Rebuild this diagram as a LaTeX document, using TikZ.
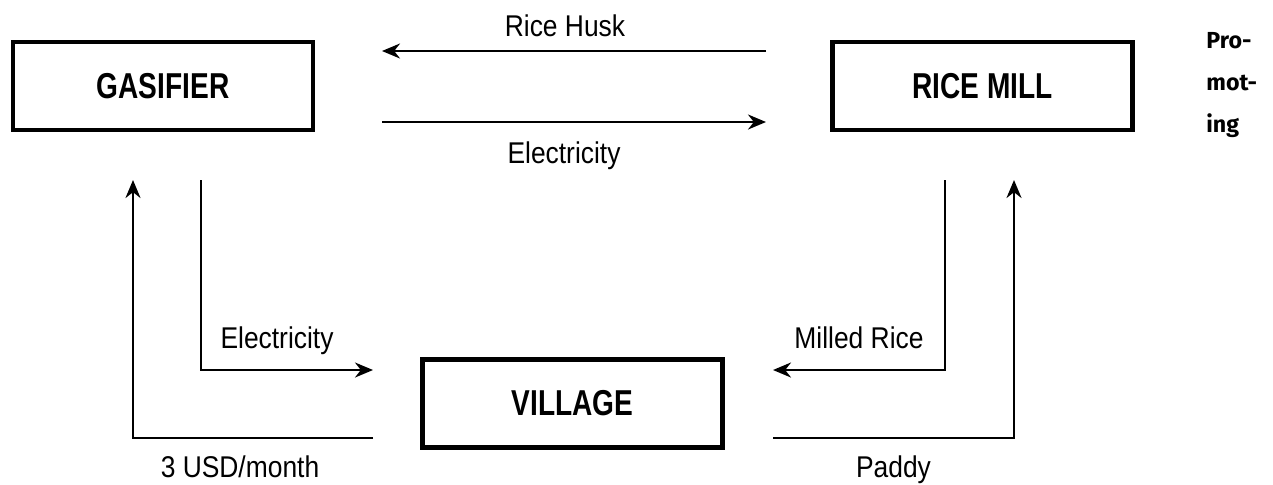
\documentclass[tikz,border=0pt]{standalone}
\usepackage{fontspec}
\setmainfont{Liberation Sans}
\newfontfamily\narrowfont[FakeStretch=0.88]{Liberation Sans}
\newfontfamily\blockfont[FakeStretch=0.78]{Liberation Sans}
\newfontfamily\sidefont{Fira Sans}
\usetikzlibrary{arrows.meta}
\usetikzlibrary{positioning}

\begin{document}
\begin{tikzpicture}[x=0.5pt,y=-0.5pt,
        block/.style={draw, line width=2.3pt, minimum width=150pt, minimum height=44pt, inner sep=0pt,
            font=\blockfont\bfseries\fontsize{18}{20}\selectfont},
        flow/.style={line width=1.2pt, -{Stealth[length=9pt,width=7.5pt]}},
        lbl/.style={anchor=base, inner sep=0pt, font=\narrowfont\fontsize{15}{16}\selectfont}]
            \useasboundingbox (0,0) rectangle (1273,484);
            \node[block]                 (gas)  at (163,86)    {GASIFIER};
            \node[block]                 (mill) at (982.5,86)  {RICE MILL};
            \node[block]                 (vil)  at (572.5,403.5) {VILLAGE};
            \node[anchor=base west, align=left, inner sep=0pt,
                  font=\sidefont\bfseries\fontsize{11.6}{21}\selectfont] (side) at (1206,132) {Pro-\\mot-\\ing};
            % free ends of the flows
            \coordinate (husk_s) at (766,51);   \coordinate (husk_e) at (382,51);
            \coordinate (el_s)   at (382,122);  \coordinate (el_e)   at (766,122);
            \coordinate (pow_s)  at (201,180);  \coordinate (pow_c)  at (201,370);  \coordinate (pow_e)  at (373,370);
            \coordinate (fee_s)  at (373,438);  \coordinate (fee_c)  at (133,438);  \coordinate (fee_e)  at (133,180);
            \coordinate (rice_s) at (945,180);  \coordinate (rice_c) at (945,370);  \coordinate (rice_e) at (773,370);
            \coordinate (pad_s)  at (773,438);  \coordinate (pad_c)  at (1014,438); \coordinate (pad_e)  at (1014,180);
            \draw[flow] (husk_s) -- node[lbl, xshift=-4.5pt, yshift=7.5pt] {Rice Husk} (husk_e);
            \draw[flow] (el_s) -- node[lbl, xshift=-5pt, yshift=-20.5pt] {Electricity} (el_e);
            \draw[flow] (pow_s) -- (pow_c) -- node[lbl, xshift=-5pt, yshift=11pt] {Electricity} (pow_e);
            \draw[flow] (fee_s) -- node[lbl, xshift=-6.5pt, yshift=-19.5pt] {3 USD/month} (fee_c) -- (fee_e);
            \draw[flow] (rice_s) -- (rice_c) -- node[lbl, yshift=11pt] {Milled Rice} (rice_e);
            \draw[flow] (pad_s) -- node[lbl, yshift=-19.5pt] {Paddy} (pad_c) -- (pad_e);
        \end{tikzpicture}
\end{document}
